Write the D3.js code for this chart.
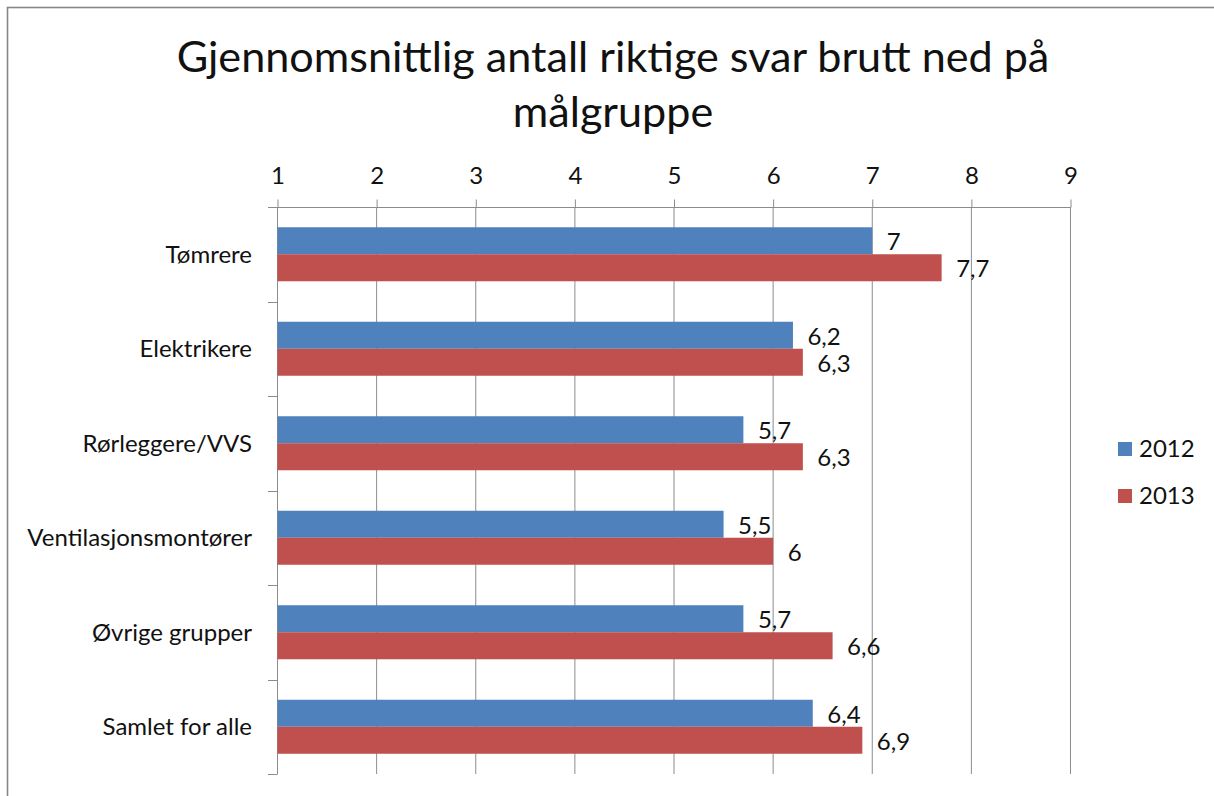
<!DOCTYPE html>
<html>
<head>
<meta charset="utf-8">
<script src="https://cdn.jsdelivr.net/npm/d3@7"></script>
<style>
  html, body { margin: 0; padding: 0; background: #fff; }
  svg { display: block; }
  text { font-family: "Lato", "Open Sans", sans-serif; fill: #111; }
</style>
</head>
<body>
<svg id="chart" width="1214" height="796"></svg>
<script>
// ---- data ----
const titleLines = ["Gjennomsnittlig antall riktige svar brutt ned på", "målgruppe"];
const categories = ["Tømrere", "Elektrikere", "Rørleggere/VVS", "Ventilasjonsmontører", "Øvrige grupper", "Samlet for alle"];
const seriesNames = ["2012", "2013"];
const values2012 = [7, 6.2, 5.7, 5.5, 5.7, 6.4];
const values2013 = [7.7, 6.3, 6.3, 6, 6.6, 6.9];
const tickValues = [1, 2, 3, 4, 5, 6, 7, 8, 9];
const colors = ["#4F81BD", "#C0504D"];

const series = [values2012, values2013];
const fmt = v => String(v).replace(".", ",");

const svg = d3.select("#chart");
const W = 1214, H = 796;
const gridColor = "#8c8c8c";
const labelSize = 24;

// frame (only top/left visible in reference)
svg.append("rect")
  .attr("x", 7.5).attr("y", 7.5)
  .attr("width", W + 20).attr("height", H + 20)
  .attr("fill", "none").attr("stroke", "#878787").attr("stroke-width", 1.6);

// title
const title = svg.append("g");
const t1 = title.append("text").attr("x", 613).attr("y", 72)
  .attr("text-anchor", "middle").style("font-size", "44px").text(titleLines[0]);
const w1 = t1.node().getComputedTextLength();
const titleSize = 44 * 873 / w1;
t1.style("font-size", titleSize + "px");
title.append("text").attr("x", 613).attr("y", 127)
  .attr("text-anchor", "middle").style("font-size", titleSize + "px").text(titleLines[1]);

// scales
const x = d3.scaleLinear().domain([1, 9]).range([277, 1070]);
const y = d3.scaleBand().domain(categories).range([207, 774]).padding(0);
const yInner = d3.scaleBand().domain(seriesNames).range([0, y.bandwidth()])
  .paddingInner(0).paddingOuter(0.75);

// vertical gridlines
svg.append("g").selectAll("line").data(tickValues.slice(1)).join("line")
  .attr("x1", d => x(d) + 0.5).attr("x2", d => x(d) + 0.5)
  .attr("y1", 207).attr("y2", 774)
  .attr("stroke", gridColor).attr("stroke-width", 1);

// top axis
const xAxis = d3.axisTop(x).tickValues(tickValues).tickSize(8).tickPadding(16)
  .tickFormat(d => d);
const gx = svg.append("g").attr("transform", "translate(0.5,207.5)").call(xAxis);
gx.select(".domain").attr("stroke", gridColor).attr("d", `M${268 - 0.5},0H${x(9)}`);
gx.selectAll(".tick line").attr("stroke", gridColor);
gx.selectAll(".tick text").style("font-size", labelSize + "px")
  .attr("font-family", null).attr("fill", "#111");

// left axis (ticks at band boundaries)
const boundaries = d3.range(categories.length + 1).map(i => 207 + i * y.step());
const gy = svg.append("g");
gy.append("line").attr("x1", 277.5).attr("x2", 277.5).attr("y1", 207).attr("y2", 774)
  .attr("stroke", gridColor);
gy.selectAll("line.tk").data(boundaries).join("line").attr("class", "tk")
  .attr("x1", 268).attr("x2", 277.5)
  .attr("y1", d => Math.round(d) + 0.5).attr("y2", d => Math.round(d) + 0.5)
  .attr("stroke", gridColor);
gy.selectAll("text").data(categories).join("text")
  .attr("x", 252).attr("y", d => y(d) + y.bandwidth() / 2)
  .attr("dy", "0.35em").attr("text-anchor", "end")
  .style("font-size", labelSize + "px").text(d => d);

// bars
const groups = svg.append("g").selectAll("g").data(categories).join("g")
  .attr("transform", d => `translate(0,${y(d)})`);
groups.selectAll("rect").data((d, i) => seriesNames.map((s, j) => ({ s, j, v: series[j][i] })))
  .join("rect")
  .attr("x", x(1) + 0.5)
  .attr("y", d => yInner(d.s))
  .attr("width", d => x(d.v) - x(1))
  .attr("height", yInner.bandwidth())
  .attr("fill", d => colors[d.j]);

// data labels
groups.selectAll("text").data((d, i) => seriesNames.map((s, j) => ({ s, j, v: series[j][i] })))
  .join("text")
  .attr("x", d => x(d.v) + 15)
  .attr("y", d => yInner(d.s) + yInner.bandwidth() / 2 + 1)
  .attr("dy", "0.35em")
  .style("font-size", labelSize + "px")
  .text(d => fmt(d.v));

// legend
const legend = svg.append("g").selectAll("g").data(seriesNames).join("g")
  .attr("transform", (d, i) => `translate(1118,${442 + i * 47})`);
legend.append("rect").attr("width", 14).attr("height", 14).attr("fill", (d, i) => colors[i]);
legend.append("text").attr("x", 21).attr("y", 7).attr("dy", "0.35em")
  .style("font-size", labelSize + "px").text(d => d);
</script>
</body>
</html>
